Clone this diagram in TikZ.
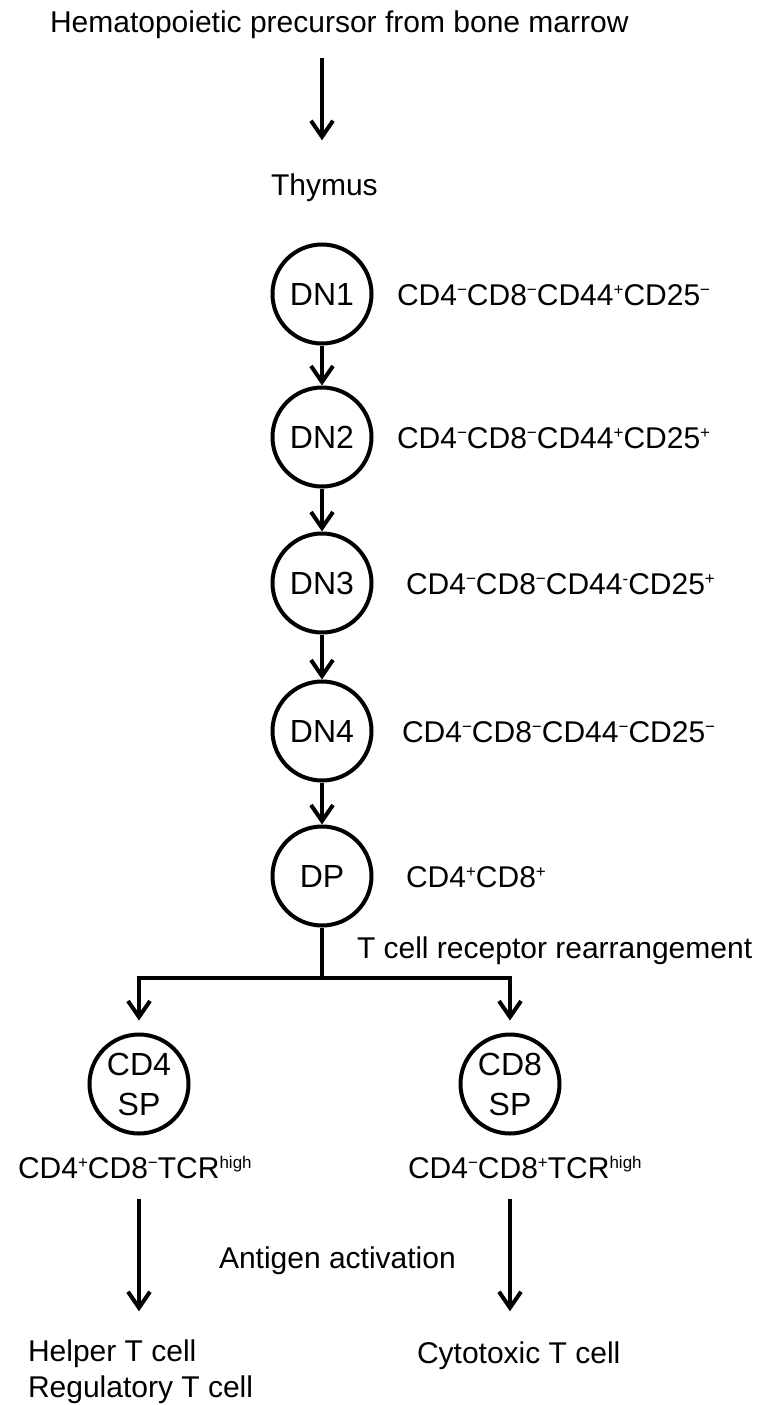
\documentclass[tikz,border=0pt]{standalone}
\usepackage{fontspec}
\setmainfont{Liberation Sans}
\usetikzlibrary{arrows.meta}
\newcommand\upx[1]{\raisebox{10pt}{\fontsize{17}{17}\selectfont #1}}
\newcommand\mns{\upx{\char"2212}}
\newcommand\pls{\upx{+}}
\begin{document}
\begin{tikzpicture}[x=1pt,y=-1pt, line width=4pt,
  txt/.style={inner sep=0pt, anchor=base west, font=\fontsize{30}{36}\selectfont},
  cell/.style={circle, draw, minimum size=99pt, inner sep=0pt, align=center,
    font=\fontsize{32}{40}\selectfont},
  arr/.style={-{Straight Barb[length=16pt,width=22pt]}}
]
\path[use as bounding box] (0,0) rectangle (761,1405);

\node[txt] (title) at (48,33) {Hematopoietic precursor from bone marrow};
\node[txt] (thymus) at (269,195) {Thymus};

\node[cell] (dn1) at (322,294) {DN1};
\node[cell] (dn2) at (322,437) {DN2};
\node[cell] (dn3) at (322,583) {DN3};
\node[cell] (dn4) at (322,731) {DN4};
\node[cell] (dp)  at (322,876) {DP};

\node[txt] (l1) at (395,305) {CD4\mns CD8\mns CD44\pls CD25\mns};
\node[txt] (l2) at (395,448) {CD4\mns CD8\mns CD44\pls CD25\pls};
\node[txt] (l3) at (404,594) {CD4\mns CD8\mns CD44\upx{-}CD25\pls};
\node[txt] (l4) at (400,742) {CD4\mns CD8\mns CD44\mns CD25\mns};
\node[txt] (l5) at (404,887) {CD4\pls CD8\pls};

\node[txt] (tcr) at (355,958) {T cell receptor rearrangement};
\coordinate (br) at (322,978);

\node[cell] (cd4sp) at (139,1084) {CD4\\SP};
\node[cell] (cd8sp) at (510,1084) {CD8\\SP};

\node[txt] (cd4txt) at (16,1178) {CD4\pls CD8\mns TCR\upx{high}};
\node[txt] (cd8txt) at (406,1178) {CD4\mns CD8\pls TCR\upx{high}};

\node[txt] (antigen) at (217,1268) {Antigen activation};
\node[txt] (helper) at (26,1361) {Helper T cell};
\node[txt] (reg) at (26,1397) {Regulatory T cell};
\node[txt] (cyto) at (415,1363) {Cytotoxic T cell};

\draw[arr, shorten <=17pt, shorten >=31pt] (title.south -| dn1.center) -- (thymus.north -| dn1.center);
\draw[arr] (dn1) -- (dn2);
\draw[arr] (dn2) -- (dn3);
\draw[arr] (dn3) -- (dn4);
\draw[arr] (dn4) -- (dp);
\draw (dp) -- (br);
\draw[arr, shorten >=12pt] (br) -| (cd4sp);
\draw[arr, shorten >=12pt] (br) -| (cd8sp);
\draw[arr, shorten <=19pt, shorten >=26pt] (cd4txt.south -| cd4sp.center) -- (helper.north -| cd4sp.center);
\draw[arr, shorten <=19pt, shorten >=28pt] (cd8txt.south -| cd8sp.center) -- (cyto.north -| cd8sp.center);
\end{tikzpicture}
\end{document}
